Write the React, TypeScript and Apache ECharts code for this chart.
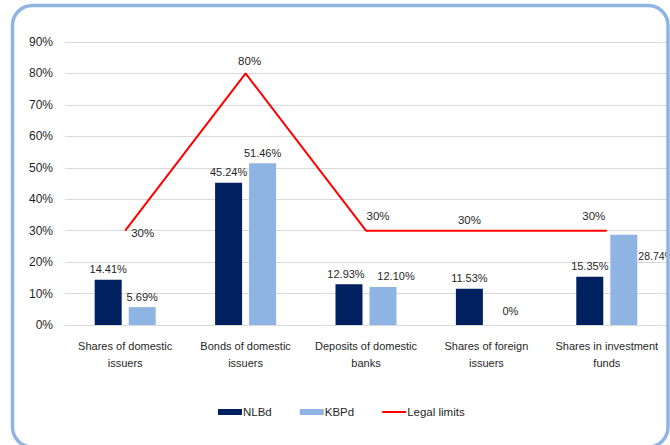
import React, { useEffect, useRef } from "react";
import * as echarts from "echarts";

const categories = [
  "Shares of domestic\nissuers",
  "Bonds of domestic\nissuers",
  "Deposits of domestic\nbanks",
  "Shares of foreign\nissuers",
  "Shares in investment\nfunds",
];
const nlbd = [14.41, 45.24, 12.93, 11.53, 15.35];
const kbpd = [5.69, 51.46, 12.1, 0, 28.74];
const legalLimits = [30, 80, 30, 30, 30];
const yTicks = [0, 10, 20, 30, 40, 50, 60, 70, 80, 90];

const FONT = "'Liberation Sans', Arial, sans-serif";
const TXT = "#1f1f1f";

export default function App() {
  const ref = useRef<HTMLDivElement>(null);
  useEffect(() => {
    document.body.style.margin = "0";
    const chart = echarts.init(ref.current!, undefined, { renderer: "svg" });
    const lineLabelStyles = [
      { position: "right", offset: [0, 2] },
      { position: "top", offset: [4, 0] },
      { position: "top", offset: [12, -3] },
      { position: "top", offset: [-17, 1] },
      { position: "top", offset: [-13, -3] },
    ];
    const nlbdLabelStyles: any[] = [{}, {}, { offset: [-3, 0] }, {}, {}];
    const kbpdLabelStyles: any[] = [
      {},
      {},
      { offset: [13, 0] },
      { offset: [7, -4] },
      { position: [28, 16], fontSize: 10.5 },
    ];
    const fmt = (v: number) => (v === 0 ? "0%" : v.toFixed(2) + "%");
    chart.setOption({
      animation: false,
      textStyle: { fontFamily: FONT },
      grid: { left: 65, right: 3, top: 42, bottom: 120, containLabel: false },
      legend: {
        bottom: 22,
        left: 213,
        itemWidth: 24,
        itemHeight: 6,
        itemGap: 28,
        symbolKeepAspect: true,
        textStyle: { fontFamily: FONT, fontSize: 11.5, color: TXT, padding: [0, 0, 0, -4] },
        data: [
          { name: "NLBd", icon: "rect" },
          { name: "KBPd", icon: "rect" },
          { name: "Legal limits", icon: "path://M0,0H24V2H0Z" },
        ],
      },
      xAxis: {
        type: "category",
        data: categories,
        axisTick: { show: false },
        axisLine: { show: true, lineStyle: { color: "#d9d9d9", width: 1 } },
        axisLabel: {
          interval: 0,
          margin: 12,
          fontFamily: FONT,
          fontSize: 11,
          lineHeight: 17,
          color: TXT,
        },
      },
      yAxis: {
        type: "value",
        min: yTicks[0],
        max: yTicks[yTicks.length - 1],
        interval: 10,
        axisLine: { show: false },
        axisTick: { show: false },
        splitLine: { lineStyle: { color: "#d9d9d9", width: 1 } },
        axisLabel: {
          margin: 12,
          fontFamily: FONT,
          fontSize: 12,
          color: TXT,
          formatter: (v: number) => v + "%",
        },
      },
      graphic: [
        {
          type: "rect",
          shape: { x: 12.5, y: 5.5, width: 655.5, height: 441.5, r: 20 },
          style: { fill: "none", stroke: "#8DB4E2", lineWidth: 3.5 },
          silent: true,
          z: 100,
        },
      ],
      series: [
        {
          name: "NLBd",
          type: "bar",
          data: nlbd.map((v, i) => ({ value: v, label: nlbdLabelStyles[i] })),
          barWidth: 27,
          barGap: "26%",
          itemStyle: { color: "#002060" },
          label: {
            show: true,
            position: "top",
            distance: 5,
            fontFamily: FONT,
            fontSize: 11,
            color: TXT,
            formatter: (p: any) => fmt(p.value),
          },
        },
        {
          name: "KBPd",
          type: "bar",
          data: kbpd.map((v, i) => ({ value: v, label: kbpdLabelStyles[i] })),
          barWidth: 27,
          itemStyle: { color: "#8DB4E2" },
          label: {
            show: true,
            position: "top",
            distance: 5,
            fontFamily: FONT,
            fontSize: 11,
            color: TXT,
            formatter: (p: any) => fmt(p.value),
          },
        },
        {
          name: "Legal limits",
          type: "line",
          data: legalLimits,
          symbol: "none",
          lineStyle: { color: "#FF0000", width: 2 },
          itemStyle: { color: "#FF0000" },
          z: 5,
        },
        {
          name: "Legal limits labels",
          type: "scatter",
          data: legalLimits.map((v, i) => ({ value: v, label: lineLabelStyles[i] })),
          symbolSize: 0,
          itemStyle: { color: "#FF0000", opacity: 1 },
          silent: true,
          z: 6,
          label: {
            show: true,
            fontFamily: FONT,
            fontSize: 11.5,
            color: TXT,
            opacity: 1,
            distance: 6,
            formatter: (p: any) => p.value + "%",
          },
        },
      ],
    });
    return () => chart.dispose();
  }, []);
  return (
    <div
      ref={ref}
      style={{ position: "absolute", left: 0, top: 0, width: 670, height: 445 }}
    />
  );
}
